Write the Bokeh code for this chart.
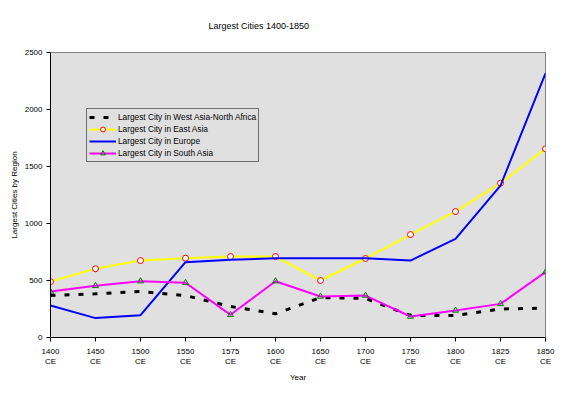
from bokeh.plotting import figure
from bokeh.models import Range1d, FixedTicker, Legend, LegendItem
from bokeh.embed import file_html
from bokeh.resources import INLINE

years = ["1400\nCE", "1450\nCE", "1500\nCE", "1550\nCE", "1575\nCE", "1600\nCE",
         "1650\nCE", "1700\nCE", "1750\nCE", "1800\nCE", "1825\nCE", "1850\nCE"]
west_asia = [368, 383, 403, 368, 272, 208, 350, 342, 193, 193, 250, 257]
east_asia = [490, 603, 675, 696, 710, 710, 500, 693, 903, 1105, 1354, 1655]
europe = [280, 170, 196, 661, 681, 696, 696, 696, 675, 866, 1333, 2318]
south_asia = [403, 453, 494, 480, 199, 494, 360, 368, 184, 237, 295, 573]
y_ticks = [0, 500, 1000, 1500, 2000, 2500]

FONT = "Liberation Sans"
xs = list(range(len(years)))

p = figure(width=560, height=386, x_range=Range1d(0, len(years) - 1), y_range=Range1d(0, 2500),
           output_backend="svg", toolbar_location=None,
           min_border_left=50, min_border_right=15, min_border_top=52, min_border_bottom=49)
p.background_fill_color = "#E0E0E0"
p.border_fill_color = "white"
p.outline_line_color = "#808080"
p.xgrid.visible = False
p.ygrid.visible = False

p.title.text = "Largest Cities 1400-1850"
p.title.align = "left"
p.title.offset = 158
p.title.text_font = FONT
p.title.text_font_size = "9px"
p.title.text_font_style = "normal"
p.title.text_color = "black"
p.title.vertical_align = "top"
p.title.standoff = 40

l1 = p.line(xs, west_asia, line_color="black", line_width=3, line_dash="5 9")
l2 = p.line(xs, east_asia, line_color="#FFFF00", line_width=2)
m2 = p.scatter(xs, east_asia, marker="circle", size=6, line_color="#FF0000", fill_color="white", line_width=1)
l3 = p.line(xs, europe, line_color="#0000FF", line_width=2)
l4 = p.line(xs, south_asia, line_color="#FF00FF", line_width=2)
m4 = p.scatter(xs, south_asia, marker="triangle", size=6, line_color="#008000", fill_alpha=0, line_width=1)

legend = Legend(items=[
    LegendItem(label="Largest City in West Asia-North Africa", renderers=[l1]),
    LegendItem(label="Largest City in East Asia", renderers=[l2, m2]),
    LegendItem(label="Largest City in Europe", renderers=[l3]),
    LegendItem(label="Largest City in South Asia", renderers=[l4, m4]),
], location=(36, 175))
legend.border_line_color = "black"
legend.border_line_width = 1
legend.background_fill_alpha = 0
legend.label_text_font = FONT
legend.label_text_font_size = "8.3px"
legend.label_text_color = "black"
legend.glyph_width = 27
legend.glyph_height = 12
legend.label_height = 12
legend.label_standoff = 2
legend.padding = 2
legend.spacing = 0
legend.margin = 0
p.add_layout(legend, "center")

p.xaxis.ticker = FixedTicker(ticks=xs)
p.xaxis.major_label_overrides = {i: years[i] for i in xs}
p.xaxis.axis_label = "Year"
p.yaxis.ticker = FixedTicker(ticks=y_ticks)
p.yaxis.axis_label = "Largest Cities by Region"
for ax in (p.xaxis, p.yaxis):
    ax.axis_line_color = "black"
    ax.major_tick_line_color = "black"
    ax.minor_tick_line_color = None
    ax.major_tick_out = 4
    ax.major_tick_in = 0
    ax.major_label_text_font = FONT
    ax.major_label_text_font_size = "8px"
    ax.major_label_text_color = "black"
    ax.axis_label_text_font = FONT
    ax.axis_label_text_font_size = "8px"
    ax.axis_label_text_font_style = "normal"
    ax.axis_label_text_color = "black"
p.xaxis.major_label_standoff = 5
p.xaxis.axis_label_standoff = 4
p.yaxis.major_label_standoff = 4
p.yaxis.axis_label_standoff = 3

open("out.html", "w").write(file_html(p, INLINE))
